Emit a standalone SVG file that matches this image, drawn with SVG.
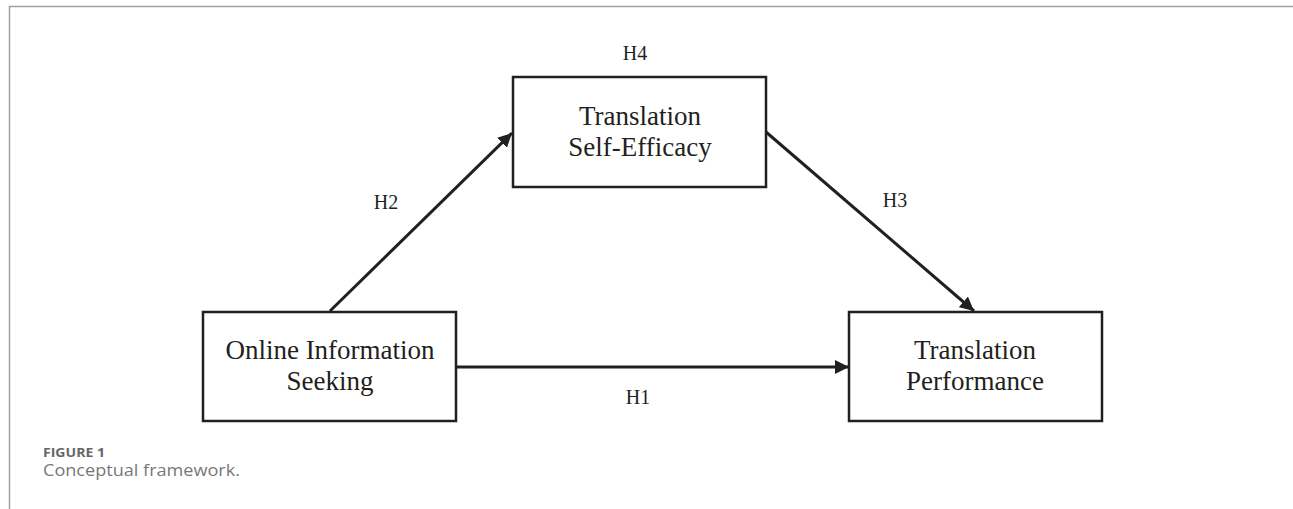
<svg xmlns="http://www.w3.org/2000/svg" width="1293" height="509" viewBox="0 0 1293 509">
<style>
.box{fill:#fff;stroke:#231f20;stroke-width:2.5}
.t{font-family:"Liberation Serif","Times New Roman",serif;font-size:27px;fill:#231f20;text-anchor:middle}
.lab{font-family:"Liberation Serif","Times New Roman",serif;font-size:20px;fill:#231f20;text-anchor:middle}
.edge{stroke:#231f20;stroke-width:3;fill:none}
.cap1{font-family:"Open Sans","Noto Sans",sans-serif;font-size:13px;font-weight:bold;fill:#666}
.cap2{font-family:"Open Sans","Noto Sans",sans-serif;font-size:16px;fill:#777}
</style>
<defs>
<marker id="arr" markerWidth="14" markerHeight="14" viewBox="0 0 14 14" refX="14" refY="7" orient="auto" markerUnits="userSpaceOnUse">
<path d="M0,0 L14,7 L0,14 Z" fill="#231f20"/>
</marker>
</defs>
<rect width="1293" height="509" fill="#fff"/>
<path d="M9.5,509 V6.5 H1293" fill="none" stroke="#a0a0a0" stroke-width="1.5"/>
<g id="connectors">
<line class="edge" x1="330" y1="311" x2="512" y2="133" marker-end="url(#arr)"/>
<line class="edge" x1="766" y1="132" x2="974" y2="311" marker-end="url(#arr)"/>
<line class="edge" x1="456" y1="367" x2="849" y2="367" marker-end="url(#arr)"/>
<text class="lab" x="386" y="209">H2</text>
<text class="lab" x="895" y="207">H3</text>
<text class="lab" x="638" y="404">H1</text>
<text class="lab" x="635" y="60">H4</text>
</g>
<g id="node-tse">
<rect class="box" x="513" y="77" width="253" height="110"/>
<text class="t" x="640" y="125">Translation</text>
<text class="t" x="640" y="156">Self-Efficacy</text>
</g>
<g id="node-ois">
<rect class="box" x="203" y="312" width="253" height="109"/>
<text class="t" x="330" y="359">Online Information</text>
<text class="t" x="330" y="390">Seeking</text>
</g>
<g id="node-tp">
<rect class="box" x="849" y="312" width="253" height="109"/>
<text class="t" x="975" y="359">Translation</text>
<text class="t" x="975" y="390">Performance</text>
</g>
<g id="caption">
<text class="cap1" x="43" y="457" textLength="62" lengthAdjust="spacingAndGlyphs">FIGURE 1</text>
<text class="cap2" x="43" y="476" textLength="197" lengthAdjust="spacingAndGlyphs">Conceptual framework.</text>
</g>
</svg>
